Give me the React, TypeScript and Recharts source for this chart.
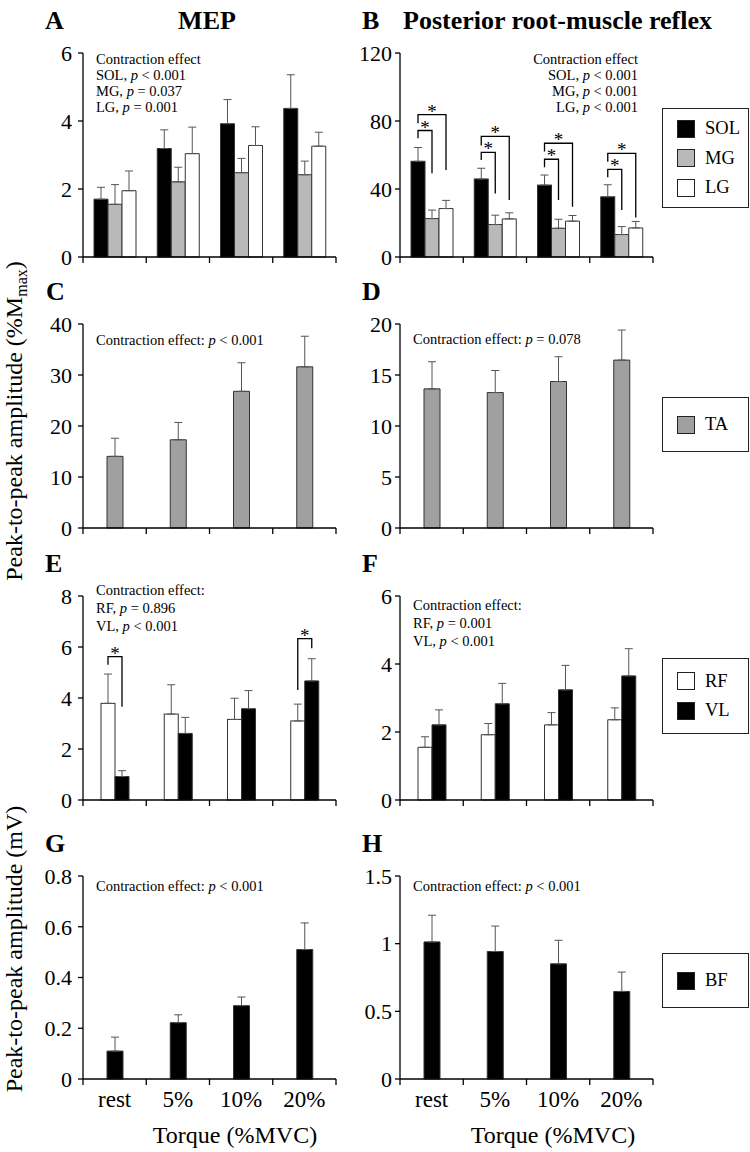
import React from "react";
import { BarChart, Bar, XAxis, YAxis, ErrorBar, Legend } from "recharts";

const FONT = "'Liberation Serif', 'Times New Roman', serif";

const torque = ["rest", "5%", "10%", "20%"];

// A - MEP, triceps surae (%Mmax)
const mepSOL = [1.7, 3.19, 3.92, 4.37];
const mepSOLErr = [0.35, 0.55, 0.71, 0.99];
const mepMG = [1.55, 2.21, 2.48, 2.42];
const mepMGErr = [0.58, 0.43, 0.42, 0.4];
const mepLG = [1.95, 3.04, 3.28, 3.26];
const mepLGErr = [0.58, 0.78, 0.55, 0.41];

// B - posterior root-muscle reflex, triceps surae (%Mmax)
const prmSOL = [56.3, 45.9, 42.3, 35.4];
const prmSOLErr = [8.1, 6.3, 5.9, 7.1];
const prmMG = [22.6, 19.1, 16.9, 13.2];
const prmMGErr = [5.0, 5.5, 5.3, 4.7];
const prmLG = [28.5, 22.4, 21.1, 17.1];
const prmLGErr = [4.8, 3.6, 3.3, 3.8];
// significance brackets in B: SOL vs MG, SOL vs LG (top, left leg end, right leg end)
const prmBrMGTop = [74.4, 61.6, 57.5, 51.6];
const prmBrMGLeft = [69.9, 57.1, 52.8, 46.9];
const prmBrMGRight = [49.2, 37.4, 33.5, 27.6];
const prmBrLGTop = [83.7, 70.9, 66.9, 61.0];
const prmBrLGLeft = [78.7, 65.6, 62.0, 56.1];
const prmBrLGRight = [51.2, 33.5, 29.5, 23.2];

// C, D - TA (%Mmax)
const mepTA = [14.05, 17.3, 26.8, 31.6];
const mepTAErr = [3.55, 3.4, 5.6, 6.0];
const prmTA = [13.64, 13.28, 14.36, 16.46];
const prmTAErr = [2.66, 2.16, 2.43, 2.95];

// E, F - RF, VL (%Mmax)
const mepRF = [3.79, 3.37, 3.16, 3.1];
const mepRFErr = [1.15, 1.15, 0.83, 0.66];
const mepVL = [0.92, 2.61, 3.58, 4.67];
const mepVLErr = [0.23, 0.63, 0.71, 0.87];
const mepBrTop = [5.62, null, null, 6.33];
const mepBrLeft = [5.3, null, null, 4.31];
const mepBrRight = [3.66, null, null, 5.95];
const prmRF = [1.55, 1.92, 2.21, 2.36];
const prmRFErr = [0.31, 0.33, 0.36, 0.35];
const prmVL = [2.21, 2.83, 3.24, 3.65];
const prmVLErr = [0.44, 0.6, 0.72, 0.8];

// G, H - BF (mV)
const mepBF = [0.11, 0.222, 0.289, 0.51];
const mepBFErr = [0.055, 0.031, 0.034, 0.105];
const prmBF = [1.013, 0.942, 0.851, 0.647];
const prmBFErr = [0.197, 0.188, 0.174, 0.143];

// y ticks
const ticksA = [0, 2, 4, 6];
const ticksB = [0, 40, 80, 120];
const ticksC = [0, 10, 20, 30, 40];
const ticksD = [0, 5, 10, 15, 20];
const ticksE = [0, 2, 4, 6, 8];
const ticksF = [0, 2, 4, 6];
const ticksG = [0, 0.2, 0.4, 0.6, 0.8];
const ticksH = [0, 0.5, 1, 1.5];

const rowTops = [53, 324, 596, 876];
const rowHeights = [204, 204, 204, 203];
const PLOT_W = 253;
const HALF_BAND = PLOT_W / torque.length / 2;

type Bracket = {
  top: (number | null)[];
  left: (number | null)[];
  right: (number | null)[];
  span: number;
};

type Series = {
  name: string;
  values: number[];
  errors: number[];
  fill: string;
  brackets?: Bracket[];
};

// category tick: marks sit on the band edges, label in the band centre
const EdgeTick = (props: any) => {
  const { x, y, index, payload, labels } = props;
  const lastTick = index === torque.length - 1;
  return (
    <g>
      <line x1={x - HALF_BAND} x2={x - HALF_BAND} y1={y} y2={y + 6} stroke="#000" strokeWidth={1.3} />
      {lastTick && (
        <line x1={x + HALF_BAND} x2={x + HALF_BAND} y1={y} y2={y + 6} stroke="#000" strokeWidth={1.3} />
      )}
      {labels && (
        <text x={x} y={y + 28} textAnchor="middle" fontSize={23} fontFamily={FONT} fill="#000">
          {payload.value}
        </text>
      )}
    </g>
  );
};

// bar shape that also draws significance brackets, using the bar's own y scale
const bracketShape = (s: Series) => (props: any) => {
  const { x, y, width, height, index, payload } = props;
  const val = payload[s.name];
  const base = y + height;
  const k = height / val;
  const toY = (v: number) => base - v * k;
  const cx = x + width / 2;
  return (
    <g>
      <rect x={x} y={y} width={width} height={height} fill={s.fill} stroke="#333" strokeWidth={1} />
      {(s.brackets || []).map((b, i) => {
        const t = b.top[index];
        if (t == null) return null;
        const rx = cx + b.span * width;
        const yt = toY(t);
        return (
          <g key={i}>
            <polyline
              points={`${cx},${toY(b.left[index] as number)} ${cx},${yt} ${rx},${yt} ${rx},${toY(b.right[index] as number)}`}
              fill="none"
              stroke="#000"
              strokeWidth={1.3}
            />
            <text x={(cx + rx) / 2} y={yt + 3} textAnchor="middle" fontSize={19} fontFamily={FONT} fill="#000">
              *
            </text>
          </g>
        );
      })}
    </g>
  );
};

const LegendBox = (props: any) => {
  const order: string[] = props.order || [];
  const items = [...(props.payload || [])].sort(
    (a: any, b: any) => order.indexOf(a.value) - order.indexOf(b.value)
  );
  return (
    <div
      style={{
        boxSizing: "border-box",
        width: "100%",
        height: "100%",
        border: "1.5px solid #222",
        background: "#fff",
        display: "flex",
        flexDirection: "column",
        justifyContent: "center",
        paddingLeft: 14,
        fontFamily: FONT,
        fontSize: 18.5,
        color: "#000",
      }}
    >
      {items.map((p: any) => (
        <div key={p.value} style={{ display: "flex", alignItems: "center", height: 29.5 }}>
          <span
            style={{
              display: "inline-block",
              width: 18,
              height: 18,
              boxSizing: "border-box",
              background: p.color,
              border: "1.5px solid #222",
              marginRight: 10,
            }}
          />
          <span>{p.value}</span>
        </div>
      ))}
    </div>
  );
};

type PanelProps = {
  side: "L" | "R";
  row: number;
  series: Series[];
  yTicks: number[];
  barSize: number;
  legendTop?: number;
  legendHeight?: number;
};

const Panel = ({ side, row, series, yTicks, barSize, legendTop, legendHeight }: PanelProps) => {
  const isLeft = side === "L";
  const last = row === 3;
  const plotTop = rowTops[row];
  const plotH = rowHeights[row];
  const axisH = last ? 40 : 12;
  const chartTop = plotTop - 20;
  const names = series.map((s) => s.name);
  const data = torque.map((t, i) => {
    const r: any = { torque: t };
    series.forEach((s) => {
      r[s.name] = s.values[i];
      r[s.name + "Err"] = [0, s.errors[i]];
    });
    return r;
  });
  return (
    <div style={{ position: "absolute", left: isLeft ? 0 : 317, top: chartTop }}>
      <BarChart
        width={(isLeft ? 4 : 97) + 83 + PLOT_W}
        height={20 + plotH + axisH}
        data={data}
        margin={{ top: 20, right: isLeft ? 4 : 97, left: 0, bottom: 0 }}
        barGap={0}
      >
        <XAxis
          dataKey="torque"
          interval={0}
          height={axisH}
          tickSize={0}
          tickMargin={0}
          tickLine={false}
          axisLine={{ stroke: "#000", strokeWidth: 1.3 }}
          tick={(p: any) => <EdgeTick {...p} labels={last} />}
        />
        <YAxis
          domain={[0, yTicks[yTicks.length - 1]]}
          ticks={yTicks}
          interval={0}
          width={83}
          tickSize={5}
          tickMargin={isLeft ? 6 : 3}
          axisLine={{ stroke: "#000", strokeWidth: 1.3 }}
          tickLine={{ stroke: "#000", strokeWidth: 1.3 }}
          tick={{ fill: "#000", fontSize: 22, fontFamily: FONT }}
        />
        {series.map((s) => (
          <Bar
            key={s.name}
            dataKey={s.name}
            name={s.name}
            fill={s.fill}
            stroke="#333"
            strokeWidth={1}
            barSize={barSize}
            isAnimationActive={false}
            shape={s.brackets ? bracketShape(s) : undefined}
          >
            <ErrorBar dataKey={s.name + "Err"} direction="y" width={4} stroke="#555" strokeWidth={1} />
          </Bar>
        ))}
        {legendTop !== undefined && (
          <Legend
            layout="vertical"
            align="center"
            verticalAlign="middle"
            wrapperStyle={{ left: 345, top: legendTop - chartTop, width: 87, height: legendHeight }}
            content={(p: any) => <LegendBox {...p} order={names} />}
          />
        )}
      </BarChart>
    </div>
  );
};

const Stat = ({ x, y, lead, rel, anchor = "start" }: any) => (
  <text x={x} y={y} textAnchor={anchor} fontSize={14.5} fontFamily={FONT} fill="#000">
    {lead}
    {rel !== undefined && <tspan fontStyle="italic">p</tspan>}
    {rel}
  </text>
);

const Letter = ({ x, y, children }: any) => (
  <text x={x} y={y} fontSize={26} fontWeight="bold" fontFamily={FONT} fill="#000">
    {children}
  </text>
);

export default function App() {
  return (
    <div style={{ position: "absolute", left: 0, top: 0, width: 750, height: 1152, background: "#fff" }}>
      <Panel
        side="L"
        row={0}
        yTicks={ticksA}
        barSize={14}
        series={[
          { name: "SOL", values: mepSOL, errors: mepSOLErr, fill: "#000" },
          { name: "MG", values: mepMG, errors: mepMGErr, fill: "#b9b9b9" },
          { name: "LG", values: mepLG, errors: mepLGErr, fill: "#fff" },
        ]}
      />
      <Panel
        side="R"
        row={0}
        yTicks={ticksB}
        barSize={14}
        legendTop={108}
        legendHeight={100}
        series={[
          {
            name: "SOL",
            values: prmSOL,
            errors: prmSOLErr,
            fill: "#000",
            brackets: [
              { top: prmBrMGTop, left: prmBrMGLeft, right: prmBrMGRight, span: 1 },
              { top: prmBrLGTop, left: prmBrLGLeft, right: prmBrLGRight, span: 2 },
            ],
          },
          { name: "MG", values: prmMG, errors: prmMGErr, fill: "#b9b9b9" },
          { name: "LG", values: prmLG, errors: prmLGErr, fill: "#fff" },
        ]}
      />
      <Panel
        side="L"
        row={1}
        yTicks={ticksC}
        barSize={16}
        series={[{ name: "TA", values: mepTA, errors: mepTAErr, fill: "#a0a0a0" }]}
      />
      <Panel
        side="R"
        row={1}
        yTicks={ticksD}
        barSize={16}
        legendTop={397}
        legendHeight={55}
        series={[{ name: "TA", values: prmTA, errors: prmTAErr, fill: "#a0a0a0" }]}
      />
      <Panel
        side="L"
        row={2}
        yTicks={ticksE}
        barSize={14}
        series={[
          {
            name: "RF",
            values: mepRF,
            errors: mepRFErr,
            fill: "#fff",
            brackets: [{ top: mepBrTop, left: mepBrLeft, right: mepBrRight, span: 1 }],
          },
          { name: "VL", values: mepVL, errors: mepVLErr, fill: "#000" },
        ]}
      />
      <Panel
        side="R"
        row={2}
        yTicks={ticksF}
        barSize={14}
        legendTop={658}
        legendHeight={76}
        series={[
          { name: "RF", values: prmRF, errors: prmRFErr, fill: "#fff" },
          { name: "VL", values: prmVL, errors: prmVLErr, fill: "#000" },
        ]}
      />
      <Panel
        side="L"
        row={3}
        yTicks={ticksG}
        barSize={16}
        series={[{ name: "BF", values: mepBF, errors: mepBFErr, fill: "#000" }]}
      />
      <Panel
        side="R"
        row={3}
        yTicks={ticksH}
        barSize={16}
        legendTop={953}
        legendHeight={55}
        series={[{ name: "BF", values: prmBF, errors: prmBFErr, fill: "#000" }]}
      />

      <svg
        width={750}
        height={1152}
        style={{ position: "absolute", left: 0, top: 0, pointerEvents: "none" }}
      >
        <Letter x={45} y={29}>A</Letter>
        <text x={207} y={29} textAnchor="middle" fontSize={26} fontWeight="bold" fontFamily={FONT}>
          MEP
        </text>
        <Letter x={362} y={29}>B</Letter>
        <text x={403} y={29} fontSize={26} fontWeight="bold" fontFamily={FONT}>
          Posterior root-muscle reflex
        </text>
        <Letter x={46} y={300}>C</Letter>
        <Letter x={362} y={300}>D</Letter>
        <Letter x={45} y={572}>E</Letter>
        <Letter x={362} y={572}>F</Letter>
        <Letter x={45} y={852}>G</Letter>
        <Letter x={362} y={852}>H</Letter>

        <Stat x={96} y={64} lead="Contraction effect" />
        <Stat x={96} y={80} lead="SOL, " rel=" < 0.001" />
        <Stat x={96} y={96} lead="MG, " rel=" = 0.037" />
        <Stat x={96} y={111.5} lead="LG, " rel=" = 0.001" />

        <Stat x={638} y={64} anchor="end" lead="Contraction effect" />
        <Stat x={638} y={80} anchor="end" lead="SOL, " rel=" < 0.001" />
        <Stat x={638} y={96} anchor="end" lead="MG, " rel=" < 0.001" />
        <Stat x={638} y={111.5} anchor="end" lead="LG, " rel=" < 0.001" />

        <Stat x={96} y={345} lead="Contraction effect: " rel=" < 0.001" />
        <Stat x={413} y={344} lead="Contraction effect: " rel=" = 0.078" />

        <Stat x={96} y={595} lead="Contraction effect:" />
        <Stat x={96} y={613} lead="RF, " rel=" = 0.896" />
        <Stat x={96} y={631} lead="VL, " rel=" < 0.001" />

        <Stat x={413} y={610} lead="Contraction effect:" />
        <Stat x={413} y={628} lead="RF, " rel=" = 0.001" />
        <Stat x={413} y={646} lead="VL, " rel=" < 0.001" />

        <Stat x={96} y={891} lead="Contraction effect: " rel=" < 0.001" />
        <Stat x={413} y={891} lead="Contraction effect: " rel=" < 0.001" />

        <text
          transform="translate(22,421) rotate(-90)"
          textAnchor="middle"
          fontSize={24}
          fontFamily={FONT}
          fill="#000"
        >
          Peak-to-peak amplitude (%M
          <tspan fontSize={16} dy={5}>max</tspan>
          <tspan dy={-5}>)</tspan>
        </text>
        <text
          transform="translate(22,949) rotate(-90)"
          textAnchor="middle"
          fontSize={24}
          fontFamily={FONT}
          fill="#000"
        >
          Peak-to-peak amplitude (mV)
        </text>

        <text x={235} y={1143} textAnchor="middle" fontSize={24} fontFamily={FONT} fill="#000">
          Torque (%MVC)
        </text>
        <text x={553} y={1143} textAnchor="middle" fontSize={24} fontFamily={FONT} fill="#000">
          Torque (%MVC)
        </text>
      </svg>
    </div>
  );
}
